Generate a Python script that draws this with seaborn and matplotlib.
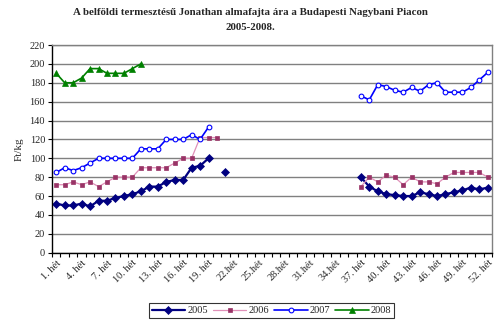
import numpy as np
import pandas as pd
import matplotlib
matplotlib.use("Agg")
import matplotlib.pyplot as plt
from matplotlib.lines import Line2D
import seaborn as sns

sns.set_theme(style="white")
plt.rcParams['font.family'] = ['Liberation Serif', 'DejaVu Serif']

weeks = list(range(1, 53))
tick_weeks = list(range(1, 53, 3))
tick_labels = ["1. hét", "4. hét", "7. hét", "10. hét", "13. hét", "16. hét", "19. hét",
               "22.hét", "25.hét", "28.hét", "31.hét", "34.hét", "37. hét", "40. hét",
               "43. hét", "46. hét", "49. hét", "52. hét"]

nan = np.nan
# 2005: weeks 1-19, 21, 37-52
y2005 = ([52, 50, 50, 52, 49, 55, 55, 58, 60, 62, 65, 70, 70, 75, 77, 77, 90, 92, 100]
         + [nan, 85] + [nan] * 15
         + [80, 70, 65, 62, 61, 60, 60, 64, 62, 60, 62, 64, 66, 69, 67, 69])
# 2006: weeks 1-20, 37-52
y2006 = ([72, 72, 75, 72, 75, 70, 75, 80, 80, 80, 90, 90, 90, 90, 95, 100, 100, 122, 122, 122]
         + [nan] * 16
         + [70, 80, 75, 82, 80, 72, 80, 75, 75, 73, 80, 85, 85, 85, 85, 80])
# 2007: weeks 1-19, 37-52
y2007 = ([85, 90, 87, 90, 95, 100, 100, 100, 100, 100, 110, 110, 110, 120, 120, 120, 125, 120, 133]
         + [nan] * 17
         + [166, 162, 178, 176, 172, 170, 175, 171, 178, 180, 170, 170, 170, 175, 183, 191])
# 2008: weeks 1-11
y2008 = [190, 180, 180, 185, 195, 195, 190, 190, 190, 195, 200] + [nan] * 41

series = {"2005": y2005, "2006": y2006, "2007": y2007, "2008": y2008}
styles = {
    "2005": dict(color="#000080", lw=1.6, marker="D", ms=4.0, mfc="#000080", mec="#000080"),
    "2006": dict(color="#E090B8", lw=0.9, marker="s", ms=3.4, mfc="#993366", mec="#993366"),
    "2007": dict(color="#0000FF", lw=1.2, marker="o", ms=3.4, mfc="white", mec="#0000FF", mew=0.8),
    "2008": dict(color="#008000", lw=1.2, marker="^", ms=4.3, mfc="#008000", mec="#008000"),
}

rows = []
for name, vals in series.items():
    seg = 0
    prev_nan = True
    for w, v in zip(weeks, vals):
        if np.isnan(v):
            prev_nan = True
            continue
        if prev_nan:
            seg += 1
        prev_nan = False
        rows.append(dict(year=name, week=w, value=v, seg=seg))
df = pd.DataFrame(rows)

fig = plt.figure(figsize=(5, 3.25), dpi=100)
ax = fig.add_axes([0.104, 0.2225, 0.88, 0.639])

for name in series:
    st = styles[name]
    d = df[df.year == name]
    for s, part in d.groupby("seg"):
        sns.lineplot(data=part, x="week", y="value", ax=ax, color=st["color"], lw=st["lw"],
                     marker=st["marker"], markersize=st["ms"], markerfacecolor=st["mfc"],
                     markeredgecolor=st["mec"], markeredgewidth=st.get("mew", 0.5),
                     legend=False, estimator=None, sort=True)

ax.set_xlim(0.5, 52.5)
ax.set_ylim(0, 220)
ax.set_yticks(range(0, 221, 20))
ax.yaxis.grid(True, color="#808080", lw=1.0)
ax.set_axisbelow(True)
ax.set_xticks(tick_weeks)
ax.set_xticklabels(tick_labels, rotation=45, ha="right", rotation_mode="anchor", fontsize=7.5)
ax.set_xticks(np.arange(0.5, 53, 1), minor=True)
ax.tick_params(axis="x", which="major", length=0, pad=4)
ax.tick_params(axis="x", which="minor", length=3, width=0.8, color="black", direction="out")
ax.tick_params(axis="y", length=3, width=0.8, color="black", direction="out", labelsize=7.5, pad=2)
ax.tick_params(bottom=True, left=True)
ax.xaxis.set_tick_params(which="minor", bottom=True)
for side in ["left", "bottom"]:
    ax.spines[side].set_color("black")
    ax.spines[side].set_linewidth(1.0)
ax.spines["right"].set_color("#808080")
ax.spines["top"].set_color("#808080")
ax.spines["right"].set_linewidth(1.0)
ax.spines["top"].set_linewidth(1.0)
ax.set_xlabel("")
ax.set_ylabel("Ft/kg", fontsize=8, labelpad=4)

fig.text(0.5, 0.962, "A belföldi termesztésű Jonathan almafajta ára a Budapesti Nagybani Piacon",
         ha="center", va="center", fontsize=7.8, fontweight="bold")
fig.text(0.5, 0.914, "2005-2008.", ha="center", va="center", fontsize=7.8, fontweight="bold")

handles = []
for name in series:
    st = styles[name]
    handles.append(Line2D([0], [0], color=st["color"], lw=st["lw"], marker=st["marker"],
                          markersize=st["ms"], markerfacecolor=st["mfc"],
                          markeredgecolor=st["mec"], markeredgewidth=st.get("mew", 0.5)))
leg = fig.legend(handles, list(series.keys()), loc="lower center", bbox_to_anchor=(0.543, 0.006),
                 ncol=4, frameon=True, fontsize=7.5, handlelength=3.2, handletextpad=0.2,
                 columnspacing=0.5, borderpad=0.25, fancybox=False)
leg.get_frame().set_edgecolor("black")
leg.get_frame().set_linewidth(0.8)

fig.savefig("out.png", dpi=100)
